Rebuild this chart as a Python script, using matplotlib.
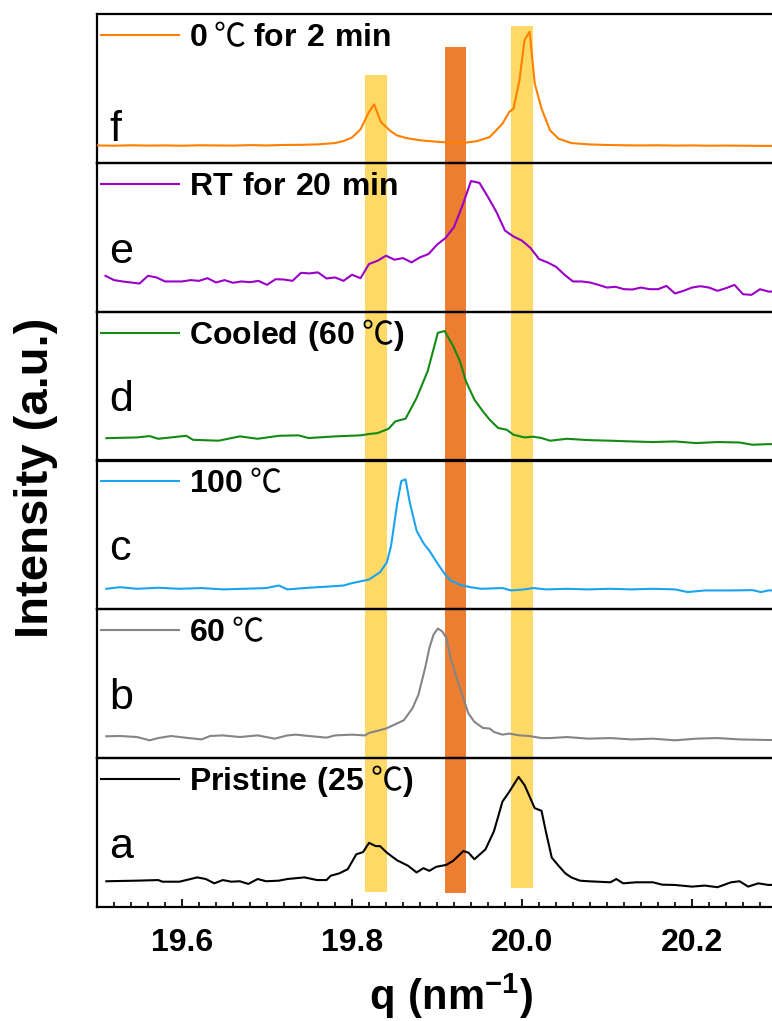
import numpy as np
import matplotlib.pyplot as plt
from matplotlib.patches import Rectangle
from matplotlib.ticker import MultipleLocator
from matplotlib.transforms import blended_transform_factory

plt.rcParams['font.family'] = ['Liberation Sans', 'Noto Sans CJK SC', 'DejaVu Sans']
plt.rcParams['mathtext.fontset'] = 'custom'
plt.rcParams['mathtext.rm'] = 'Liberation Sans'
plt.rcParams['mathtext.bf'] = 'Liberation Sans:bold'

# ---- data (intensity normalised to each panel height) ----
q_a = [19.511, 19.547, 19.572, 19.577, 19.597, 19.618, 19.628, 19.638, 19.648, 19.658,
       19.668, 19.678, 19.689, 19.699, 19.714, 19.724, 19.744, 19.759, 19.770, 19.775,
       19.785, 19.795, 19.805, 19.813, 19.820, 19.828, 19.833, 19.841, 19.853, 19.866,
       19.876, 19.884, 19.891, 19.899, 19.911, 19.919, 19.931, 19.937, 19.944, 19.957,
       19.967, 19.977, 19.985, 19.996, 20.003, 20.015, 20.023, 20.028, 20.035, 20.043,
       20.051, 20.058, 20.068, 20.078, 20.104, 20.111, 20.119, 20.134, 20.154, 20.165,
       20.180, 20.200, 20.215, 20.230, 20.246, 20.256, 20.266, 20.278, 20.290, 20.300]
i_a = [0.173, 0.177, 0.181, 0.170, 0.170, 0.199, 0.188, 0.159, 0.181, 0.170,
       0.173, 0.155, 0.188, 0.173, 0.177, 0.188, 0.199, 0.181, 0.181, 0.210,
       0.226, 0.254, 0.354, 0.369, 0.431, 0.409, 0.409, 0.365, 0.314, 0.277,
       0.232, 0.261, 0.243, 0.270, 0.283, 0.310, 0.376, 0.365, 0.321, 0.387,
       0.509, 0.708, 0.774, 0.874, 0.819, 0.664, 0.646, 0.509, 0.332, 0.277,
       0.226, 0.199, 0.177, 0.173, 0.166, 0.188, 0.159, 0.166, 0.166, 0.150,
       0.148, 0.137, 0.144, 0.133, 0.166, 0.173, 0.137, 0.159, 0.148, 0.150]

q_b = [19.511, 19.527, 19.547, 19.562, 19.572, 19.587, 19.608, 19.623, 19.633, 19.648,
       19.668, 19.689, 19.709, 19.724, 19.734, 19.749, 19.770, 19.780, 19.800, 19.815,
       19.820, 19.840, 19.851, 19.861, 19.871, 19.878, 19.886, 19.891, 19.896, 19.901,
       19.906, 19.911, 19.916, 19.922, 19.929, 19.937, 19.944, 19.954, 19.962, 19.967,
       19.977, 19.985, 19.997, 20.008, 20.023, 20.033, 20.053, 20.078, 20.104, 20.129,
       20.154, 20.180, 20.205, 20.230, 20.256, 20.290, 20.300]
i_b = [0.147, 0.149, 0.142, 0.120, 0.135, 0.149, 0.135, 0.126, 0.149, 0.153,
       0.142, 0.153, 0.131, 0.153, 0.158, 0.149, 0.138, 0.153, 0.158, 0.153,
       0.169, 0.199, 0.228, 0.255, 0.334, 0.424, 0.605, 0.740, 0.831, 0.871,
       0.853, 0.808, 0.673, 0.560, 0.436, 0.300, 0.244, 0.203, 0.199, 0.176,
       0.158, 0.165, 0.153, 0.149, 0.135, 0.135, 0.142, 0.131, 0.135, 0.126,
       0.131, 0.120, 0.131, 0.135, 0.126, 0.122, 0.122]

q_c = [19.511, 19.527, 19.547, 19.572, 19.597, 19.623, 19.648, 19.673, 19.699, 19.714,
       19.724, 19.749, 19.775, 19.790, 19.800, 19.820, 19.833, 19.841, 19.846, 19.853,
       19.858, 19.863, 19.868, 19.876, 19.884, 19.891, 19.901, 19.909, 19.916, 19.927,
       19.939, 19.952, 19.977, 19.987, 20.003, 20.013, 20.028, 20.053, 20.078, 20.104,
       20.129, 20.154, 20.180, 20.195, 20.215, 20.246, 20.271, 20.281, 20.290, 20.300]
i_c = [0.138, 0.149, 0.138, 0.145, 0.138, 0.143, 0.134, 0.138, 0.143, 0.160,
       0.134, 0.145, 0.154, 0.160, 0.176, 0.200, 0.250, 0.316, 0.428, 0.706,
       0.862, 0.873, 0.717, 0.528, 0.445, 0.394, 0.305, 0.238, 0.194, 0.165,
       0.149, 0.138, 0.143, 0.127, 0.134, 0.143, 0.134, 0.138, 0.134, 0.138,
       0.134, 0.138, 0.134, 0.116, 0.127, 0.127, 0.129, 0.116, 0.127, 0.127]

q_d = [19.511, 19.547, 19.562, 19.572, 19.605, 19.613, 19.643, 19.668, 19.689, 19.714,
       19.737, 19.749, 19.780, 19.810, 19.820, 19.830, 19.843, 19.851, 19.863, 19.876,
       19.889, 19.901, 19.909, 19.919, 19.927, 19.934, 19.944, 19.954, 19.962, 19.972,
       19.982, 19.990, 20.003, 20.013, 20.023, 20.033, 20.053, 20.078, 20.104, 20.129,
       20.154, 20.180, 20.205, 20.230, 20.256, 20.271, 20.290, 20.300]
i_d = [0.150, 0.155, 0.164, 0.146, 0.166, 0.139, 0.133, 0.162, 0.146, 0.166,
       0.169, 0.151, 0.162, 0.169, 0.178, 0.184, 0.213, 0.263, 0.281, 0.420,
       0.600, 0.858, 0.870, 0.769, 0.667, 0.533, 0.409, 0.330, 0.274, 0.218,
       0.207, 0.173, 0.155, 0.160, 0.151, 0.133, 0.146, 0.137, 0.133, 0.128,
       0.124, 0.128, 0.117, 0.124, 0.121, 0.106, 0.110, 0.110]

q_e = [19.51, 19.52, 19.53, 19.54, 19.55, 19.56, 19.57, 19.58, 19.59, 19.60,
       19.61, 19.62, 19.63, 19.64, 19.65, 19.66, 19.67, 19.68, 19.69, 19.70,
       19.71, 19.72, 19.73, 19.74, 19.75, 19.76, 19.77, 19.78, 19.79, 19.80,
       19.81, 19.82, 19.83, 19.84, 19.85, 19.86, 19.87, 19.88, 19.89, 19.90,
       19.91, 19.92, 19.93, 19.94, 19.95, 19.96, 19.97, 19.98, 19.99, 20.00,
       20.01, 20.02, 20.03, 20.04, 20.05, 20.06, 20.07, 20.08, 20.09, 20.10,
       20.11, 20.12, 20.13, 20.14, 20.15, 20.16, 20.17, 20.18, 20.19, 20.20,
       20.21, 20.22, 20.23, 20.24, 20.25, 20.26, 20.27, 20.28, 20.29, 20.30]
i_e = [0.241, 0.212, 0.203, 0.196, 0.189, 0.241, 0.230, 0.203, 0.203, 0.203,
       0.212, 0.207, 0.225, 0.196, 0.212, 0.194, 0.203, 0.198, 0.207, 0.180,
       0.218, 0.216, 0.207, 0.261, 0.257, 0.264, 0.223, 0.230, 0.207, 0.248,
       0.225, 0.320, 0.342, 0.376, 0.349, 0.360, 0.331, 0.365, 0.387, 0.450,
       0.495, 0.568, 0.714, 0.878, 0.865, 0.770, 0.669, 0.545, 0.505, 0.477,
       0.428, 0.354, 0.331, 0.302, 0.248, 0.203, 0.203, 0.196, 0.180, 0.162,
       0.167, 0.151, 0.149, 0.162, 0.151, 0.151, 0.173, 0.122, 0.140, 0.162,
       0.171, 0.162, 0.140, 0.158, 0.180, 0.117, 0.113, 0.151, 0.135, 0.135]

q_f = [19.50, 19.52, 19.54, 19.56, 19.58, 19.60, 19.62, 19.64, 19.66, 19.68,
       19.70, 19.72, 19.74, 19.76, 19.78, 19.79, 19.80, 19.81, 19.82, 19.826,
       19.834, 19.845, 19.853, 19.865, 19.881, 19.895, 19.906, 19.920, 19.932, 19.940,
       19.947, 19.962, 19.977, 19.985, 19.990, 19.997, 20.003, 20.009, 20.015, 20.023,
       20.033, 20.043, 20.058, 20.078, 20.10, 20.12, 20.14, 20.16, 20.18, 20.20,
       20.22, 20.24, 20.26, 20.28, 20.30]
i_f = [0.117, 0.115, 0.118, 0.116, 0.117, 0.115, 0.118, 0.117, 0.116, 0.119,
       0.117, 0.120, 0.121, 0.124, 0.133, 0.146, 0.170, 0.225, 0.342, 0.393,
       0.274, 0.215, 0.184, 0.165, 0.151, 0.144, 0.139, 0.137, 0.135, 0.140,
       0.146, 0.173, 0.263, 0.342, 0.364, 0.555, 0.825, 0.881, 0.533, 0.364,
       0.218, 0.162, 0.133, 0.124, 0.120, 0.118, 0.117, 0.118, 0.116, 0.117,
       0.115, 0.116, 0.115, 0.114, 0.114]

# top panel first; bold parts in mathtext, the degree sign in a CJK font
series = [(q_f, i_f), (q_e, i_e), (q_d, i_d), (q_c, i_c), (q_b, i_b), (q_a, i_a)]
labels = [r'$\mathbf{0}$ ℃ $\mathbf{for\ 2\ min}$',
          r'$\mathbf{RT\ for\ 20\ min}$',
          r'$\mathbf{Cooled\ (60}$ ℃$\mathbf{)}$',
          r'$\mathbf{100}$ ℃',
          r'$\mathbf{60}$ ℃',
          r'$\mathbf{Pristine\ (25}$ ℃$\mathbf{)}$']
letters = ['f', 'e', 'd', 'c', 'b', 'a']
colors = ['#FF8000', '#9B00C8', '#138A13', '#1AA3F0', '#858585', '#000000']

# highlighted q windows (left, right)
band_q = [(19.815, 19.841), (19.909, 19.934), (19.987, 20.013)]
band_colors = ['#FFD966', '#ED7D31', '#FFD966']
band_y = [(0.1263, 0.9265), (0.1254, 0.9540), (0.1300, 0.9745)]

W, H = 772, 1021
fig = plt.figure(figsize=(W / 100, H / 100), dpi=100)

left_px, width_px = 97, 680
top_px, bottom_px = 14, 907
ph = (bottom_px - top_px) / 6.0
letter_y = [0.15, 0.33, 0.33, 0.33, 0.33, 0.33]

axes = []
for k, ((q, inten), lab, let, col) in enumerate(zip(series, labels, letters, colors)):
    y0 = 1 - (top_px + (k + 1) * ph) / H
    ax = fig.add_axes([left_px / W, y0, width_px / W, ph / H])
    ax.set_facecolor('none')
    ax.plot(q, inten, color=col, lw=1.5, label=lab, zorder=3)
    ax.set_xlim(19.5, 20.3)
    ax.set_ylim(0, 1)
    ax.set_yticks([])
    for s in ax.spines.values():
        s.set_linewidth(1.6)
    ax.legend(loc='center left', bbox_to_anchor=(0.006, 0.845), frameon=False,
              borderaxespad=0, borderpad=0, handlelength=2.45, handletextpad=0.3,
              prop={'family': ['Noto Sans CJK SC', 'DejaVu Sans'], 'size': 23})
    ax.text(0.018, letter_y[k], let, transform=ax.transAxes, fontsize=31,
            ha='left', va='baseline')
    if k < 5:
        ax.set_xticks([])
    axes.append(ax)

axb = axes[-1]
axb.xaxis.set_major_locator(MultipleLocator(0.2))
axb.xaxis.set_minor_locator(MultipleLocator(0.02))
axb.xaxis.set_major_formatter(plt.FormatStrFormatter('%.1f'))
axb.tick_params(axis='x', which='major', direction='in', length=5.5, width=1.3, pad=15,
                labelsize=23)
axb.tick_params(axis='x', which='minor', direction='in', length=3.5, width=1.2)
for t in axb.get_xticklabels():
    t.set_fontweight('bold')

trans = blended_transform_factory(axb.transData, fig.transFigure)
for (q0, q1), bc, (yb, yt) in zip(band_q, band_colors, band_y):
    fig.add_artist(Rectangle((q0, yb), q1 - q0, yt - yb, transform=trans,
                             facecolor=bc, edgecolor='none', zorder=-1))

fig.text(0.584, 0.011, r'$\mathbf{q\ (nm^{-1})}$', fontsize=30, ha='center', va='baseline')
fig.text(0.046, 0.532, 'Intensity (a.u.)', fontsize=34, fontweight='bold',
         rotation=90, ha='center', va='center')

fig.savefig('out.png', dpi=100)
